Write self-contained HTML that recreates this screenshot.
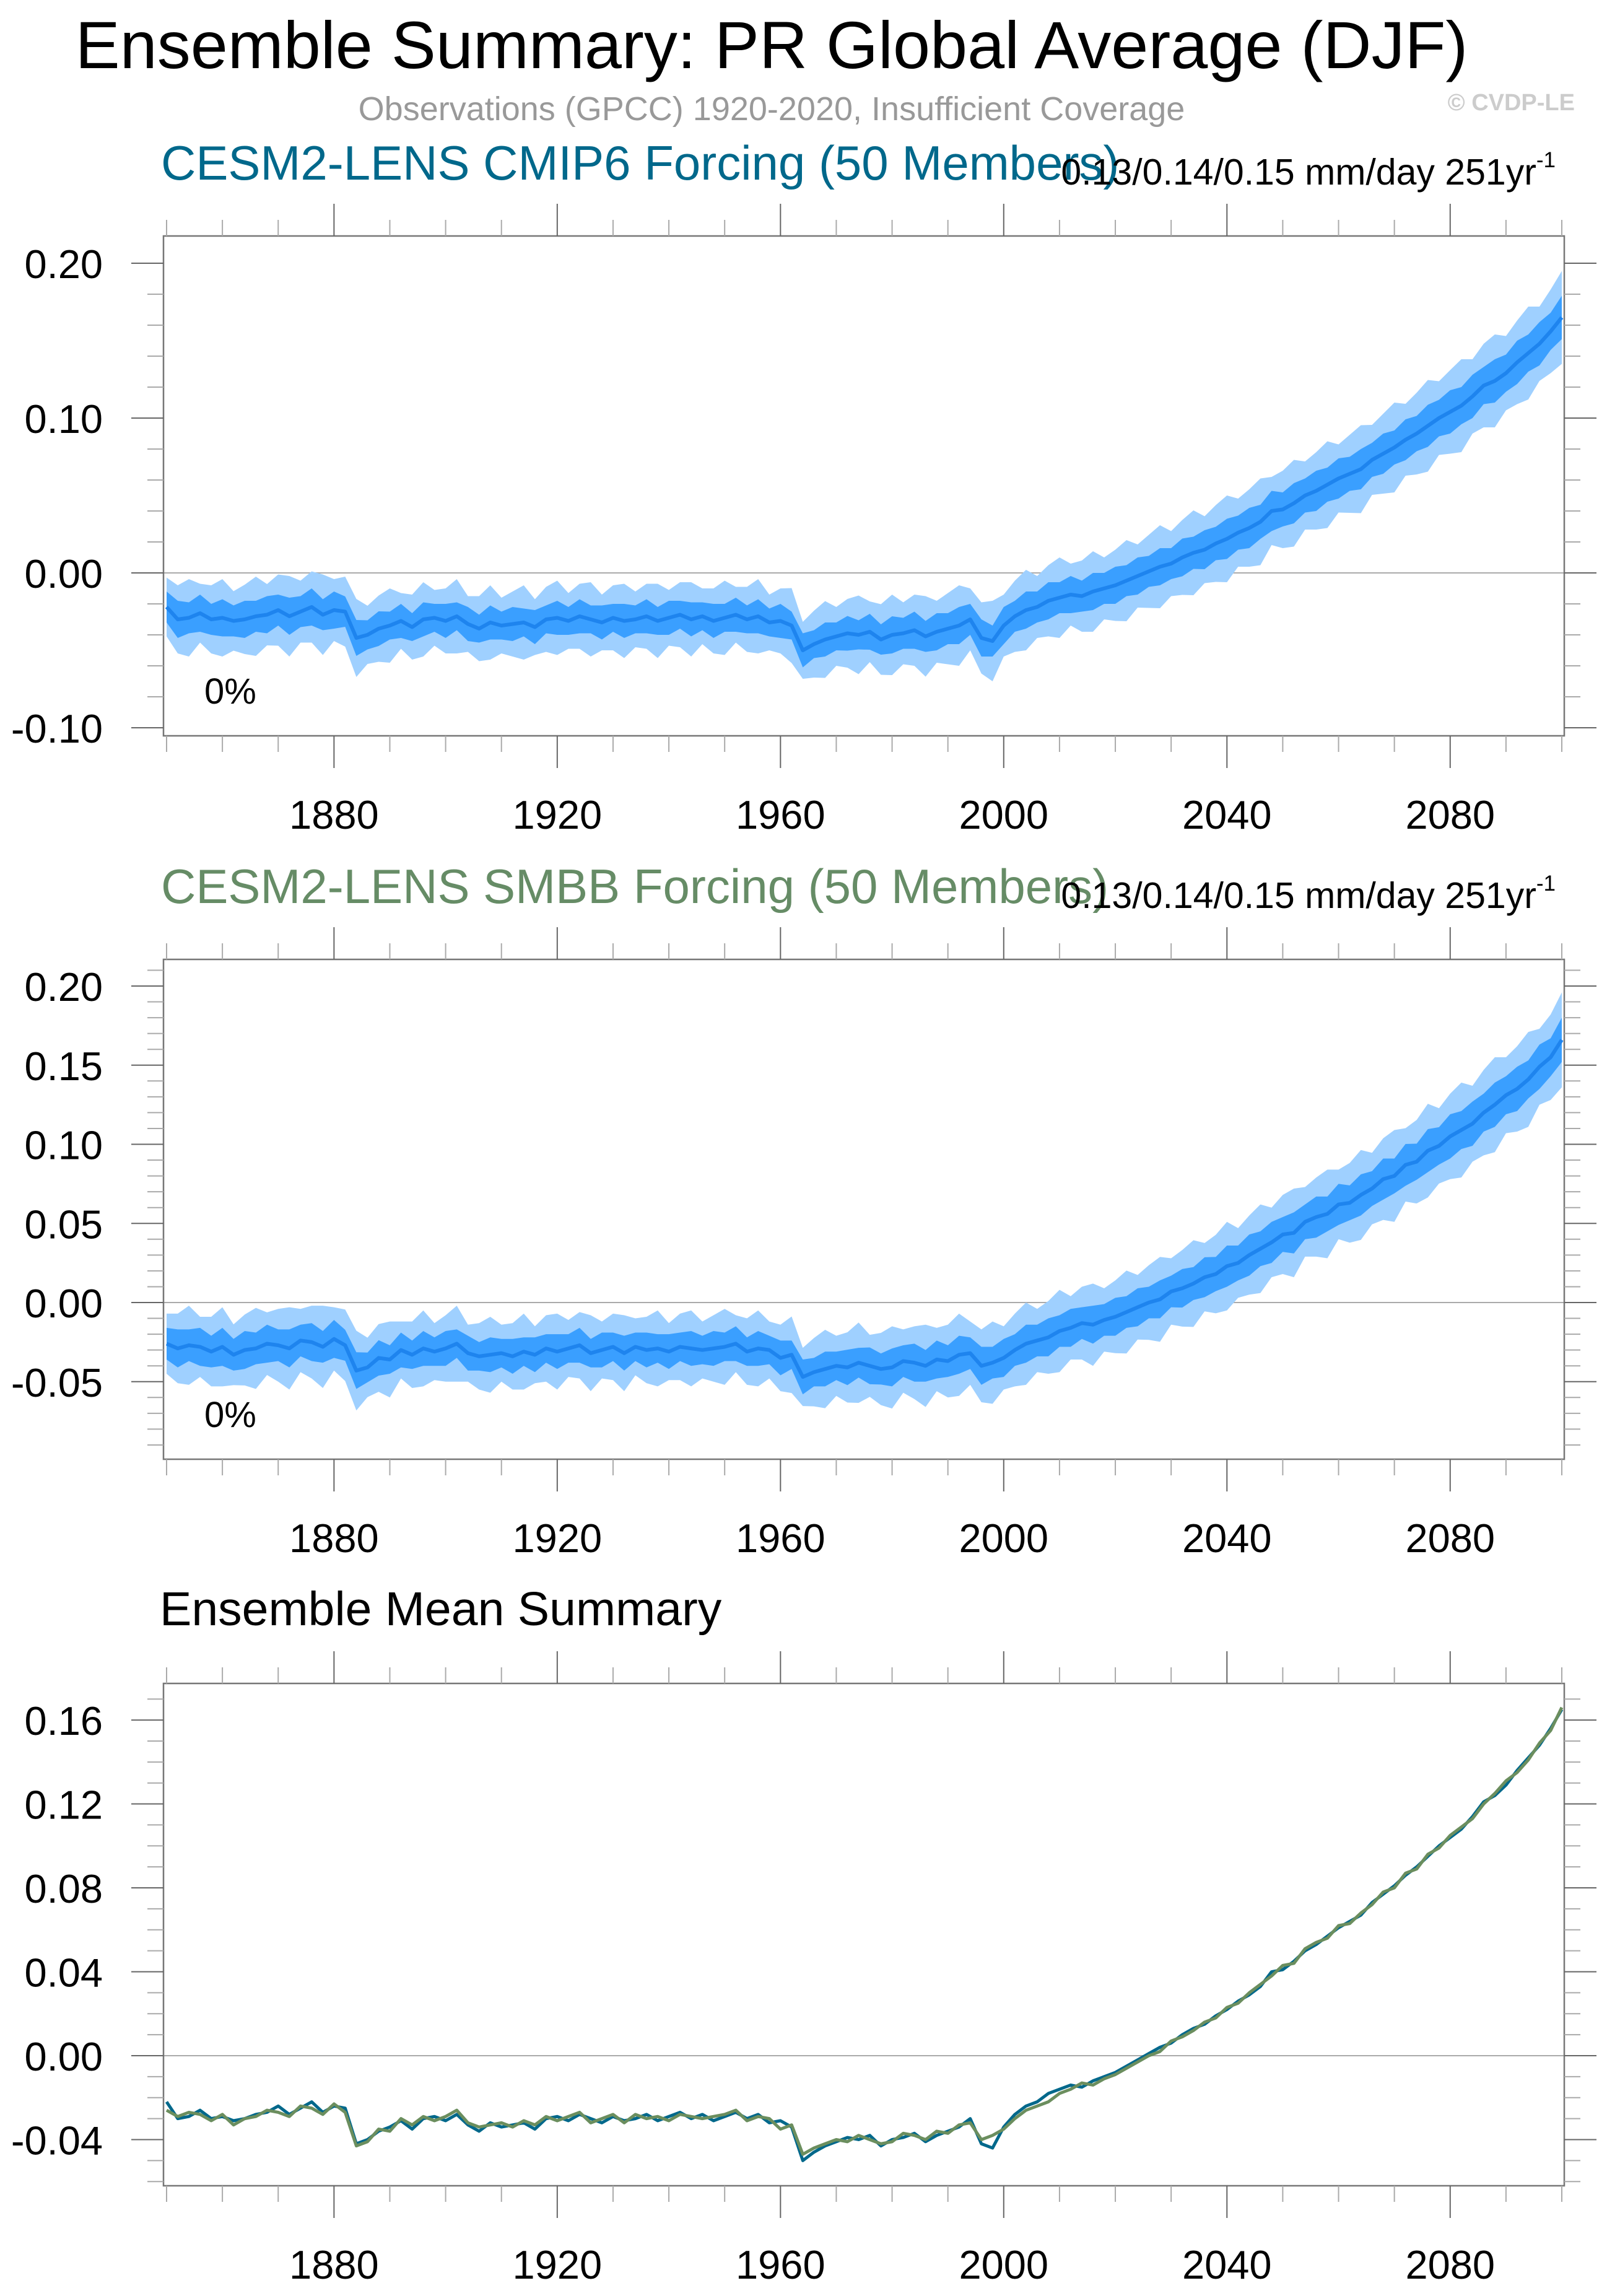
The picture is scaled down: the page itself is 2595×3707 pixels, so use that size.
<!DOCTYPE html>
<html><head><meta charset="utf-8"><style>
html,body{margin:0;padding:0;background:#fff}
svg{display:block}
text{font-family:"Liberation Sans",sans-serif}
</style></head><body>
<svg id="chart" width="2595" height="3707" viewBox="0 0 2595 3707" xmlns="http://www.w3.org/2000/svg">
<text x="1246" y="110" font-size="108" text-anchor="middle" fill="#000">Ensemble Summary: PR Global Average (DJF)</text>
<text x="1246" y="194" font-size="54" text-anchor="middle" fill="#999">Observations (GPCC) 1920-2020, Insufficient Coverage</text>
<text x="2543" y="178" font-size="38" font-weight="bold" text-anchor="end" fill="#ccc">© CVDP-LE</text>
<text x="260" y="290" font-size="78" fill="#00688b">CESM2-LENS CMIP6 Forcing (50 Members)</text>
<text x="2512" y="298" font-size="59" text-anchor="end" fill="#000">0.13/0.14/0.15 mm/day 251yr<tspan font-size="35" dy="-28">-1</tspan></text>
<text x="260" y="1458" font-size="78" fill="#668c66">CESM2-LENS SMBB Forcing (50 Members)</text>
<text x="2512" y="1466" font-size="59" text-anchor="end" fill="#000">0.13/0.14/0.15 mm/day 251yr<tspan font-size="35" dy="-28">-1</tspan></text>
<text x="258" y="2624" font-size="77" fill="#000">Ensemble Mean Summary</text>
<g id="layer"></g>
</svg>
<script>
// Ensemble mean (CMIP6), every 2 years starting 1850
const cmip6Mean = [-0.022,-0.030,-0.029,-0.026,-0.030,-0.029,-0.031,-0.030,-0.028,-0.027,-0.024,-0.028,-0.025,-0.022,-0.027,-0.024,-0.025,
-0.042,-0.040,-0.036,-0.034,-0.031,-0.035,-0.030,-0.029,-0.031,-0.028,-0.033,-0.036,-0.032,-0.034,-0.033,-0.032,-0.035,-0.030,-0.029,-0.031,-0.028,-0.030,-0.032,-0.029,-0.031,-0.030,-0.028,-0.031,-0.029,-0.027,-0.030,-0.028,-0.031,-0.029,-0.027,-0.030,-0.028,-0.032,-0.031,-0.034,
-0.050,-0.046,-0.043,-0.041,-0.039,-0.040,-0.038,-0.043,-0.040,-0.039,-0.037,-0.041,-0.038,-0.036,-0.034,-0.030,-0.042,-0.044,
-0.034,-0.028,-0.024,-0.022,-0.018,-0.016,-0.014,-0.015,-0.012,-0.010,-0.008,-0.005,-0.002,0.001,0.004,0.006,0.010,0.013,0.015,0.019,0.022,0.026,0.029,0.033,0.040,0.041,0.045,0.050,0.053,0.057,0.061,0.064,0.067,0.073,0.077,0.081,0.086,0.090,0.095,0.100,0.104,0.108,0.114,0.121,0.124,0.129,0.136,0.142,0.148,0.156,0.165];
// Ensemble mean (SMBB)
const smbbMean = [-0.026,-0.029,-0.027,-0.028,-0.031,-0.028,-0.033,-0.030,-0.029,-0.026,-0.027,-0.029,-0.024,-0.025,-0.028,-0.023,-0.027,
-0.043,-0.041,-0.035,-0.036,-0.030,-0.033,-0.029,-0.031,-0.029,-0.026,-0.032,-0.034,-0.033,-0.032,-0.034,-0.031,-0.033,-0.029,-0.031,-0.029,-0.027,-0.032,-0.030,-0.028,-0.032,-0.028,-0.030,-0.029,-0.031,-0.028,-0.029,-0.030,-0.029,-0.028,-0.026,-0.031,-0.029,-0.030,-0.035,-0.033,
-0.047,-0.044,-0.042,-0.040,-0.041,-0.038,-0.040,-0.042,-0.041,-0.037,-0.038,-0.040,-0.036,-0.037,-0.033,-0.032,-0.040,-0.038,
-0.035,-0.030,-0.026,-0.024,-0.022,-0.018,-0.016,-0.013,-0.014,-0.011,-0.009,-0.006,-0.003,0.000,0.002,0.007,0.009,0.012,0.016,0.018,0.023,0.025,0.030,0.034,0.038,0.043,0.044,0.051,0.054,0.056,0.062,0.063,0.068,0.072,0.078,0.080,0.087,0.089,0.096,0.099,0.105,0.109,0.113,0.120,0.125,0.131,0.135,0.141,0.149,0.155,0.166];
// Band half-widths per decade (1850..2100)
const innerHalf = [0.011,0.011,0.011,0.011,0.010,0.010,0.010,0.010,0.010,0.010,0.010,0.010,0.010,0.011,0.011,0.011,0.011,0.011,0.011,0.012,0.012,0.012,0.012,0.013,0.013,0.013];
const outerHalf = [0.022,0.022,0.023,0.023,0.021,0.021,0.021,0.021,0.021,0.021,0.021,0.021,0.022,0.023,0.023,0.023,0.023,0.023,0.024,0.025,0.025,0.025,0.026,0.027,0.027,0.027];
const xTickYears = [1880,1920,1960,2000,2040,2080];

const NS="http://www.w3.org/2000/svg";
const layer=document.getElementById('layer');
function mk(tag,attrs,parent){const e=document.createElementNS(NS,tag);for(const k in attrs)e.setAttribute(k,attrs[k]);(parent||layer).appendChild(e);return e;}
const X0=264,X1=2526;
function xs(yr){return 269+(yr-1850)*9.012;}
function yearOf(i){return 1850+2*i;}
function half(arr,yr){const f=(yr-1850)/10;const i=Math.min(Math.floor(f),arr.length-2);const t=f-i;return arr[i]*(1-t)+arr[i+1]*t;}

const panels=[
 {top:381,bot:1188,zero:925,k:2500,major:0.10,minor:0.02,lo:-0.12,hi:0.22,mean:cmip6Mean,name:'cmip6'},
 {top:1549,bot:2356,zero:2103,k:2555,major:0.05,minor:0.01,lo:-0.10,hi:0.22,mean:smbbMean,name:'smbb'},
 {top:2718,bot:3529,zero:3319,k:3387,major:0.04,minor:0.01,lo:-0.07,hi:0.18,mean:null,name:'mean-summary'}
];
panels.forEach((p,pi)=>{
 const g=mk('g',{});
 
 
 const ys=v=>p.zero-v*p.k;
 const z=mk('line',{x1:X0,x2:X1,y1:ys(0),y2:ys(0),stroke:'#aaa','stroke-width':2},g);
 
 
 if(p.mean){
  const m=p.mean;
  const bands=[[outerHalf,'#9fd0ff','outer-band'],[innerHalf,'#3a9fff','inner-band']];
  bands.forEach(([h,col,nm])=>{
   let up=[],dn=[];
   m.forEach((v,i)=>{const yr=yearOf(i);const w=h===outerHalf?half(h,yr)+((i%3)-1)*0.003:half(h,yr)+((i%2)?0.001:-0.001);up.push(xs(yr)+','+ys(v+w));dn.unshift(xs(yr)+','+ys(v-w));});
   const poly=mk('polygon',{points:up.concat(dn).join(' '),fill:col},g);
   
   
  });
  const pl=mk('polyline',{points:m.map((v,i)=>xs(yearOf(i))+','+ys(v)).join(' '),fill:'none',stroke:'#1e84ee','stroke-width':6,'stroke-linejoin':'round'},g);
  
  
  const t=mk('text',{x:330,y:p.bot-52,'font-size':58},g);
  t.textContent='0%';
  
  
 } else {
  [[cmip6Mean,'#00688b','cmip6-mean-line'],[smbbMean,'#6b8e5e','smbb-mean-line']].forEach(([m,c,nm])=>{
   const pl=mk('polyline',{points:m.map((v,i)=>xs(yearOf(i))+','+ys(v)).join(' '),fill:'none',stroke:c,'stroke-width':5,'stroke-linejoin':'round'},g);
   
   
  });
 }
 const fr=mk('rect',{x:X0,y:p.top,width:X1-X0,height:p.bot-p.top,fill:'none',stroke:'#777','stroke-width':2.5},g);
 
 
 const nMin=Math.round((p.hi-p.lo)/p.minor);
 for(let j=0;j<=nMin;j++){
  const v=p.lo+j*p.minor; const y=ys(v);
  if(y<p.top+2||y>p.bot-2)continue;
  const isMaj=Math.abs(v/p.major-Math.round(v/p.major))<1e-6;
  const L=isMaj?52:26;
  mk('line',{x1:X0-L,x2:X0,y1:y,y2:y,stroke:isMaj?'#666':'#aaa','stroke-width':2},g);
  mk('line',{x1:X1,x2:X1+L,y1:y,y2:y,stroke:isMaj?'#666':'#aaa','stroke-width':2},g);
  if(isMaj){
   const t=mk('text',{x:166,y:y+24,'font-size':65,'text-anchor':'end'},g);
   t.textContent=v.toFixed(2);
   
   
  }
 }
 for(let yr=1850;yr<=2100;yr+=10){
  const x=xs(yr);const isMaj=xTickYears.includes(yr);
  const L=isMaj?52:26;
  mk('line',{x1:x,x2:x,y1:p.top-L,y2:p.top,stroke:isMaj?'#666':'#aaa','stroke-width':2},g);
  mk('line',{x1:x,x2:x,y1:p.bot,y2:p.bot+L,stroke:isMaj?'#666':'#aaa','stroke-width':2},g);
 }
 xTickYears.forEach(yr=>{
  const t=mk('text',{x:xs(yr),y:p.bot+150,'font-size':65,'text-anchor':'middle'},g);
  t.textContent=yr;
  
  
 });
});
</script>
</body></html>
